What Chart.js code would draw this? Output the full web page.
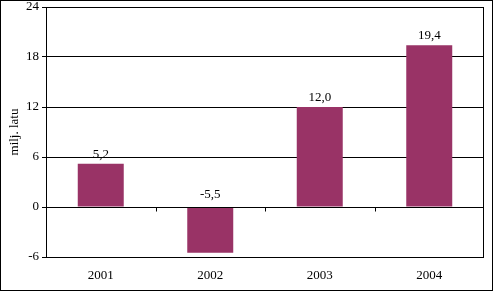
<!DOCTYPE html>
<html>
<head>
<meta charset="utf-8">
<script src="https://cdn.jsdelivr.net/npm/chart.js@4"></script>
<style>
  html, body { margin: 0; padding: 0; background: #fff; }
  #wrap { width: 493px; height: 291px; }
</style>
</head>
<body>
<div id="wrap"><canvas id="myChart" width="493" height="291"></canvas></div>
<script>
const years = ['2001', '2002', '2003', '2004'];
const values = [5.2, -5.5, 12.0, 19.4];
const yTicks = [-6, 0, 6, 12, 18, 24];
const yTitle = 'milj. latu';

const barColor = '#993366';
const font = { family: "'Liberation Serif', 'Times New Roman', serif", size: 13 };

function fmt(v) {
    return v.toFixed(1).replace('.', ',');
}

// outer frame, plot frame, tick marks on zero line, value labels
const decor = {
    id: 'decor',
    beforeDraw(chart) {
        const c = chart.ctx;
        c.save();
        c.fillStyle = '#fff';
        c.fillRect(0, 0, chart.width, chart.height);
        c.strokeStyle = '#000';
        c.lineWidth = 1;
        c.strokeRect(0.5, 0.5, chart.width - 1, chart.height - 1);
        c.restore();
    },
    afterDatasetsDraw(chart) {
        const c = chart.ctx;
        const a = chart.chartArea;
        const x = chart.scales.x;
        const y = chart.scales.y;
        const zero = Math.round(y.getPixelForValue(0)) + 0.5;
        c.save();
        c.strokeStyle = '#000';
        c.lineWidth = 1;
        c.beginPath();
        c.moveTo(a.left, zero);
        c.lineTo(a.right, zero);
        for (let i = 1; i < years.length; i++) {
            const px = Math.round((x.getPixelForValue(i - 1) + x.getPixelForValue(i)) / 2) + 0.5;
            c.moveTo(px, zero);
            c.lineTo(px, zero + 4);
        }
        c.stroke();
        c.strokeRect(Math.round(a.left) + 0.5, Math.round(a.top) + 0.5,
            Math.round(a.right - a.left) - 1, Math.round(a.bottom - a.top));

        c.font = font.size + 'px ' + font.family;
        c.fillStyle = '#000';
        c.textAlign = 'center';
        c.textBaseline = 'alphabetic';
        const meta = chart.getDatasetMeta(0);
        meta.data.forEach((bar, i) => {
            const v = values[i];
            const top = v >= 0 ? bar.y : y.getPixelForValue(0);
            c.fillText(fmt(v), bar.x, top - (v >= 0 ? 6 : 9));
        });
        c.restore();
    }
};

const ctx = document.getElementById('myChart');

const myChart = new Chart(ctx, {
    type: 'bar',
    data: {
        labels: years,
        datasets: [{
            label: yTitle,
            data: values,
            backgroundColor: barColor,
            borderWidth: 0,
            categoryPercentage: 1,
            barPercentage: 0.42
        }]
    },
    options: {
        responsive: false,
        animation: false,
        layout: { padding: { top: 7, right: 9, left: 0, bottom: 0 } },
        plugins: {
            legend: { display: false },
            tooltip: { enabled: false }
        },
        scales: {
            x: {
                grid: { display: false, drawTicks: false },
                border: { display: false },
                ticks: { color: '#000', font: font, padding: 11, maxRotation: 0 },
                afterFit(scale) {
                    scale.height = 34;
                    scale.paddingLeft = 0;
                    scale.paddingRight = 0;
                }
            },
            y: {
                min: -6,
                max: 24,
                afterBuildTicks(scale) {
                    scale.ticks = yTicks.map(v => ({ value: v }));
                },
                grid: { color: '#000', lineWidth: 1, tickLength: 4, drawTicks: true },
                border: { color: '#000' },
                ticks: { color: '#000', font: font, padding: 3 },
                title: {
                    display: true,
                    text: yTitle,
                    color: '#000',
                    font: font,
                    padding: { top: 7, bottom: 0 }
                },
                afterFit(scale) {
                    scale.width = 46;
                    scale.paddingTop = 0;
                    scale.paddingBottom = 0;
                }
            }
        }
    },
    plugins: [decor]
});
</script>
</body>
</html>
